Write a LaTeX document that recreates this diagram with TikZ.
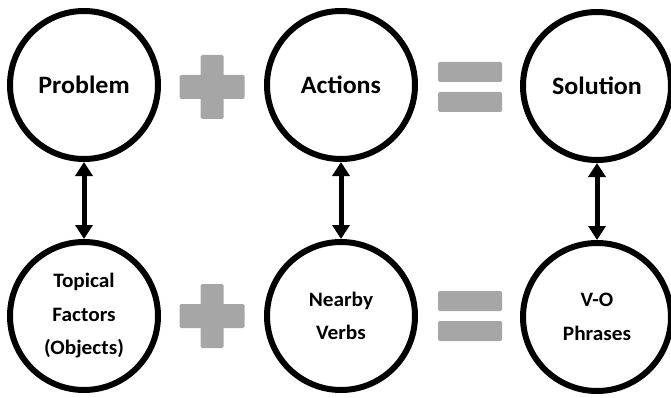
\documentclass[tikz,border=0pt]{standalone}
\usepackage{fontspec}
\setmainfont{Carlito}
\usetikzlibrary{arrows.meta}

% slightly widened text, as in the original slide
\newcommand\widetext[1]{\scalebox{1.04}[1]{#1}}

\tikzset{
  bubble/.style={circle, draw=black, line width=6pt, fill=white,
    minimum size=148pt, inner sep=0pt, align=center},
  toplabel/.style={font=\fontsize{25}{29}\selectfont\bfseries},
  botlabel/.style={font=\fontsize{20.5}{33.5}\selectfont\bfseries},
  link/.style={line width=5pt, {Triangle[length=14pt,width=17pt]}-{Triangle[length=14pt,width=17pt]}},
  opfill/.style={fill=black!35, rounded corners=1.5pt},
  pics/plussign/.style={code={
    \fill[opfill] (-32.5,-12) rectangle (32.5,12);
    \fill[opfill] (-11.5,-32) rectangle (11.5,32);
  }},
  pics/equalsign/.style={code={
    \fill[opfill] (-32,-25) rectangle (32,-5);
    \fill[opfill] (-32,5) rectangle (32,25);
  }},
}

\begin{document}
\begin{tikzpicture}[x=1pt,y=-1pt]
  \useasboundingbox (0,0) rectangle (671,398);

  % top row
  \node[bubble, toplabel] (problem)  at (84,85)  {\widetext{Problem}};
  \node[bubble, toplabel] (actions)  at (341,85) {\widetext{Actions}};
  \node[bubble, toplabel] (solution) at (597,86) {\widetext{Solution}};

  % bottom row
  \node[bubble, botlabel] (topical) at (84,316)
    {\widetext{Topical}\\\widetext{Factors}\\\widetext{(Objects)}};
  \node[bubble, botlabel] (verbs) at (341,316)
    {\widetext{Nearby}\\\widetext{Verbs}};
  \node[bubble, botlabel] (phrases) at (597,317)
    {\widetext{V-O}\\\widetext{Phrases}};

  % operators
  \pic at (212,87)  {plussign};
  \pic at (212,316) {plussign};
  \pic at (470,87)  {equalsign};
  \pic at (470,316) {equalsign};

  % vertical correspondences
  \draw[link] (problem.south)  -- (topical.north);
  \draw[link] (actions.south)  -- (verbs.north);
  \draw[link] (solution.south) -- (phrases.north);
\end{tikzpicture}
\end{document}
